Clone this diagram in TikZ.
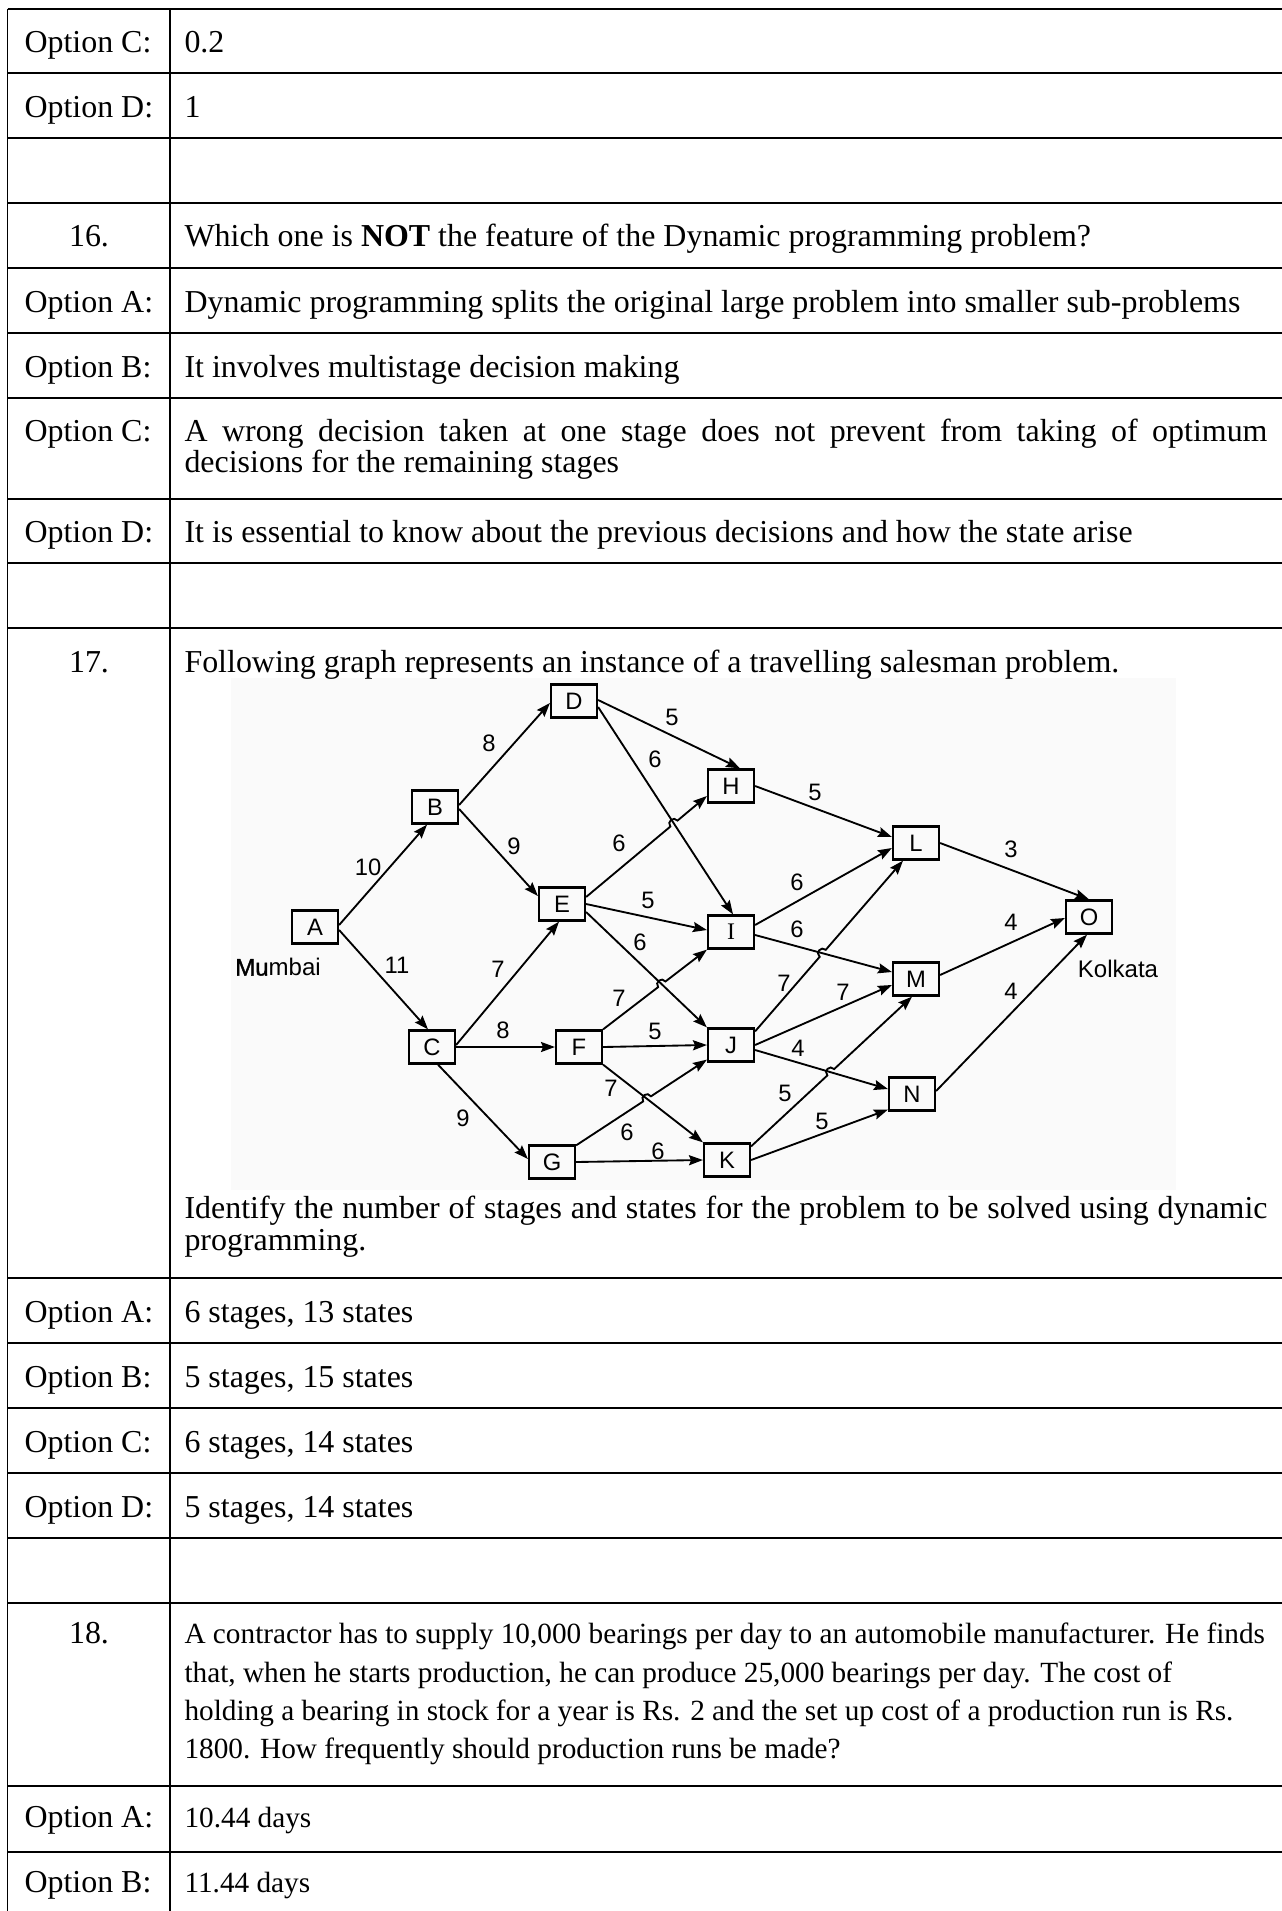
\documentclass[tikz,border=0pt]{standalone}
\usepackage{fontspec}
\setmainfont{Liberation Serif}
\newfontfamily\gsans{Liberation Sans}
\newfontfamily\mufont[BoldFont={Liberation Sans},BoldFeatures={FakeBold=1.5}]{Liberation Sans}
\usetikzlibrary{arrows.meta,calc,intersections}
\definecolor{imgbg}{RGB}{250,250,250}
\tikzset{
  hline/.style={line width=0.78pt},
  vline/.style={line width=0.72pt},
  txt/.style={anchor=base west, inner sep=0pt, font=\fontsize{12.36}{14.8}\selectfont},
  txts/.style={anchor=base west, inner sep=0pt, font=\fontsize{11.33}{13.6}\selectfont},
  num/.style={anchor=base, inner sep=0pt, font=\fontsize{12.36}{14.8}\selectfont},
  st/.style={draw, line width=0.85pt, minimum width=17.8pt, minimum height=12.8pt,
             inner sep=0pt, font=\gsans\fontsize{9.2}{10}\selectfont},
  gl/.style={inner sep=0pt, font=\gsans\fontsize{9.2}{10}\selectfont},
  city/.style={inner sep=0pt, font=\gsans\fontsize{9.3}{10}\selectfont},
  edge/.style={line width=0.72pt, -{Stealth[length=5.4pt,width=3.9pt,inset=0.8pt]}}
}
\newcommand\hopedge[4]{%
  \path[name path=hpa] #1 -- #2;
  \path[name path=hpb] #3 -- #4;
  \path[name intersections={of=hpa and hpb, by=hx}];
  \coordinate (hp1) at ($(hx)!1.8pt!#1$);
  \coordinate (hp2) at ($(hx)!1.8pt!#2$);
  \draw[edge] #1 -- (hp1) .. controls ($(hp1)!2.4pt!90:(hx)$) and ($(hp2)!2.4pt!-90:(hx)$) .. (hp2) -- #2;
}
\begin{document}
\begin{tikzpicture}[x=0.387pt,y=-0.387pt]
\useasboundingbox (0,0) rectangle (1282,1911);
\fill[white] (0,0) rectangle (1282,1911);
\fill[imgbg] (231,678) rectangle (1176,1190);

% ---------------- table rules ----------------
\foreach \yy in {9,73,138,203,268,333,398,499,563,628,1278,1343,1408,1473,1538,1603,1786,1852}
  \draw[hline] (7.5,\yy) -- (1282,\yy);
\draw[vline] (7.5,9) -- (7.5,1911);
\draw[vline] (170,9) -- (170,1911);

% ---------------- table text ----------------
\node[txt] (t1) at (24,53) {Option C:};
\node[txt] (t2) at (184,53) {0.2};
\node[txt] (t3) at (24,117) {Option D:};
\node[txt] (t4) at (184,117) {1};

\node[num] (t5) at (89,247) {16.};
\node[txt] (t6) at (184,247) {Which one is \textbf{NOT} the feature of the Dynamic programming problem?};
\node[txt] (t7) at (24,312) {Option A:};
\node[txt] (t8) at (184,312) {Dynamic programming splits the original large problem into smaller sub-problems};
\node[txt] (t9) at (24,377) {Option B:};
\node[txt] (t10) at (184,377) {It involves multistage decision making};
\node[txt] (t11) at (24,441) {Option C:};
\node[txt] (t12) at (184,441) {\makebox[419.1pt][s]{A wrong decision taken at one stage does not prevent from taking of optimum}};
\node[txt] (t13) at (184,472) {decisions for the remaining stages};
\node[txt] (t14) at (24,542) {Option D:};
\node[txt] (t15) at (184,542) {It is essential to know about the previous decisions and how the state arise};

\node[num] (t16) at (89,672) {17.};
\node[txt] (t17) at (184,672) {Following graph represents an instance of a travelling salesman problem.};
\node[txt] (t18) at (184,1218) {\makebox[419.1pt][s]{Identify the number of stages and states for the problem to be solved using dynamic}};
\node[txt] (t19) at (184,1250) {programming.};
\node[txt] (t20) at (24,1322) {Option A:};
\node[txt] (t21) at (184,1322) {6 stages, 13 states};
\node[txt] (t22) at (24,1387) {Option B:};
\node[txt] (t23) at (184,1387) {5 stages, 15 states};
\node[txt] (t24) at (24,1452) {Option C:};
\node[txt] (t25) at (184,1452) {6 stages, 14 states};
\node[txt] (t26) at (24,1517) {Option D:};
\node[txt] (t27) at (184,1517) {5 stages, 14 states};

\node[num] (t28) at (89,1643) {18.};
\node[txts] (t29) at (184,1643) {A contractor has to supply 10,000 bearings per day to an automobile manufacturer. He finds};
\node[txts] (t30) at (184,1682) {that, when he starts production, he can produce 25,000 bearings per day. The cost of};
\node[txts] (t31) at (184,1720) {holding a bearing in stock for a year is Rs. 2 and the set up cost of a production run is Rs.};
\node[txts] (t32) at (184,1758) {1800. How frequently should production runs be made?};
\node[txt] (t33) at (24,1827) {Option A:};
\node[txts] (t34) at (184,1827) {10.44 days};
\node[txt] (t35) at (24,1892) {Option B:};
\node[txts] (t36) at (184,1892) {11.44 days};

% ---------------- graph nodes ----------------
\node[st] (A) at (315,927) {A};
\node[st] (B) at (435,807) {B};
\node[st] (C) at (432,1047) {C};
\node[st] (D) at (574,701) {D};
\node[st] (E) at (562,904) {E};
\node[st] (F) at (579,1047) {F};
\node[st] (G) at (552,1162) {G};
\node[st] (H) at (731,786) {H};
\node[st] (I) at (731,932) {\rmfamily I};
\node[st] (J) at (731,1045) {J};
\node[st] (K) at (727,1160) {K};
\node[st] (L) at (916,843) {L};
\node[st] (M) at (916,979) {M};
\node[st] (N) at (912,1094) {N};
\node[st] (O) at (1089,917) {O};
\node[city] (mum) at (278,967) {{\mufont\bfseries Mu}mbai};
\node[city] (kol) at (1118,969) {Kolkata};

% ---------------- edge end points ----------------
\coordinate (ab1) at ($(A.east)+(0,-2)$);  \coordinate (ab2) at ($(B.south)+(-8,0)$);
\coordinate (ac1) at ($(A.east)+(0,3)$);   \coordinate (ac2) at ($(C.north)+(-4,0)$);
\coordinate (bd1) at ($(B.east)+(0,-2)$);  \coordinate (bd2) at ($(D.west)+(0,2)$);
\coordinate (be1) at ($(B.east)+(0,2)$);   \coordinate (be2) at ($(E.west)+(0,-8)$);
\coordinate (ce1) at ($(C.east)+(0,-2)$);  \coordinate (ce2) at ($(E.south)+(-3,0)$);
\coordinate (cg1) at ($(C.south)+(6,0)$);  \coordinate (cg2) at ($(G.west)+(0,-3)$);
\coordinate (dh1) at ($(D.east)+(0,-1)$);  \coordinate (dh2) at ($(H.north)+(9,0)$);
\coordinate (di1) at ($(D.east)+(0,6)$);   \coordinate (di2) at ($(I.north)+(2,0)$);
\coordinate (eh1) at ($(E.east)+(0,-7)$);  \coordinate (eh2) at ($(H.west)+(0,10)$);
\coordinate (ei1) at (E.east);             \coordinate (ei2) at ($(I.west)+(0,-2)$);
\coordinate (ej1) at ($(E.east)+(0,8)$);   \coordinate (ej2) at (J.north west);
\coordinate (fi1) at (F.north east);       \coordinate (fi2) at (I.south west);
\coordinate (fk1) at (F.south east);       \coordinate (fk2) at (K.north west);
\coordinate (gj1) at ($(G.north east)+(0,1)$); \coordinate (gj2) at ($(J.south west)+(0,-3)$);
\coordinate (hl1) at (H.east);             \coordinate (hl2) at ($(L.west)+(0,-6)$);
\coordinate (il1) at ($(I.east)+(0,-7)$);  \coordinate (il2) at ($(L.west)+(0,5)$);
\coordinate (im1) at ($(I.east)+(0,3)$);   \coordinate (im2) at ($(M.west)+(0,-7)$);
\coordinate (jl1) at ($(J.north east)+(0,4)$); \coordinate (jl2) at ($(L.south)+(-13,0)$);
\coordinate (jm1) at (J.east);             \coordinate (jm2) at ($(M.west)+(0,6)$);
\coordinate (jn1) at ($(J.east)+(0,5)$);   \coordinate (jn2) at ($(N.west)+(0,-5)$);
\coordinate (km1) at ($(K.north east)+(0,4)$); \coordinate (km2) at ($(M.south)+(-4,0)$);
\coordinate (kn1) at (K.east);             \coordinate (kn2) at ($(N.south west)+(0,-2)$);
\coordinate (mo1) at ($(M.east)+(0,-4)$);  \coordinate (mo2) at ($(O.west)+(0,1)$);
\coordinate (no1) at ($(N.east)+(0,-3)$);  \coordinate (no2) at ($(O.south)+(-2,0)$);

% ---------------- edges ----------------
\draw[edge] (ab1) -- (ab2);
\draw[edge] (ac1) -- (ac2);
\draw[edge] (bd1) -- (bd2);
\draw[edge] (be1) -- (be2);
\draw[edge] (ce1) -- (ce2);
\draw[edge] (C.east) -- (F.west);
\draw[edge] (cg1) -- (cg2);
\draw[edge] (dh1) -- (dh2);
\draw[edge] (di1) -- (di2);
\hopedge{(eh1)}{(eh2)}{(di1)}{(di2)}
\draw[edge] (ei1) -- (ei2);
\draw[edge] (ej1) -- (ej2);
\hopedge{(fi1)}{(fi2)}{(ej1)}{(ej2)}
\draw[edge] (F.east) -- (J.west);
\draw[edge] (fk1) -- (fk2);
\hopedge{(gj1)}{(gj2)}{(fk1)}{(fk2)}
\draw[edge] (G.east) -- (K.west);
\draw[edge] (hl1) -- (hl2);
\draw[edge] (il1) -- (il2);
\draw[edge] (im1) -- (im2);
\hopedge{(jl1)}{(jl2)}{(im1)}{(im2)}
\draw[edge] (jm1) -- (jm2);
\draw[edge] (jn1) -- (jn2);
\hopedge{(km1)}{(km2)}{(jn1)}{(jn2)}
\draw[edge] (kn1) -- (kn2);
\draw[edge] (L.east) -- (O.north);
\draw[edge] (mo1) -- (mo2);
\draw[edge] (no1) -- (no2);

% ---------------- edge labels ----------------
\node[gl] (w1) at (368,867) {10};
\node[gl] (w2) at (397,965) {11};
\node[gl] (w3) at (489,743) {8};
\node[gl] (w4) at (514,846) {9};
\node[gl] (w5) at (498,969) {7};
\node[gl] (w6) at (503,1030) {8};
\node[gl] (w7) at (463,1118) {9};
\node[gl] (w8) at (672,717) {5};
\node[gl] (w9) at (655,759) {6};
\node[gl] (w10) at (619,843) {6};
\node[gl] (w11) at (648,900) {5};
\node[gl] (w12) at (640,942) {6};
\node[gl] (w13) at (619,998) {7};
\node[gl] (w14) at (655,1031) {5};
\node[gl] (w15) at (611,1088) {7};
\node[gl] (w16) at (627,1132) {6};
\node[gl] (w17) at (658,1151) {6};
\node[gl] (w18) at (815,792) {5};
\node[gl] (w19) at (1011,849) {3};
\node[gl] (w20) at (797,882) {6};
\node[gl] (w21) at (797,929) {6};
\node[gl] (w22) at (1011,922) {4};
\node[gl] (w23) at (784,983) {7};
\node[gl] (w24) at (843,992) {7};
\node[gl] (w25) at (798,1048) {4};
\node[gl] (w26) at (1011,991) {4};
\node[gl] (w27) at (785,1093) {5};
\node[gl] (w28) at (822,1121) {5};
\end{tikzpicture}
\end{document}
